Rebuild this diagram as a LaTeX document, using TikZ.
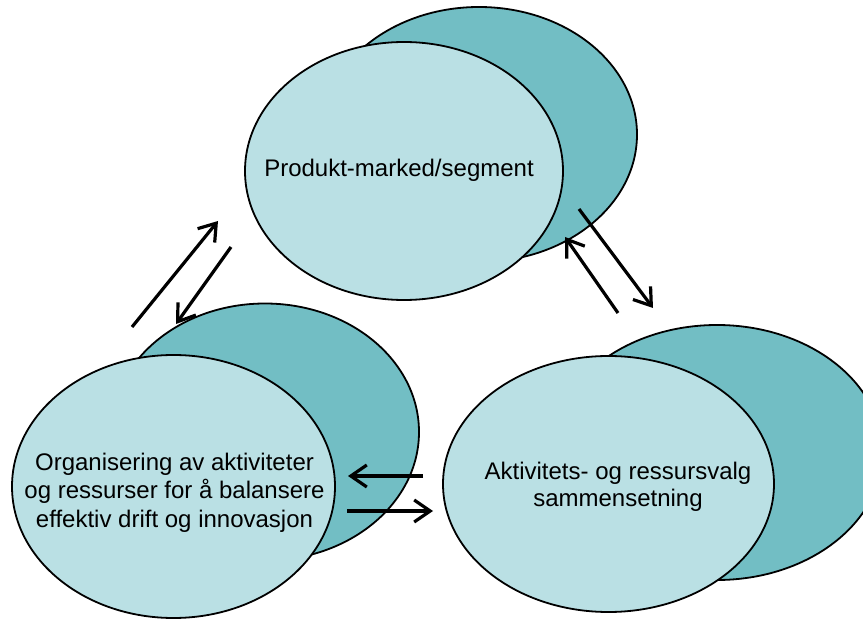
\documentclass[tikz,border=0pt]{standalone}
\usepackage{fontspec}
\setmainfont{Liberation Sans}
\usetikzlibrary{shapes.geometric,arrows.meta}
\definecolor{lightteal}{HTML}{BAE0E4}
\definecolor{darkteal}{HTML}{72BEC4}
\tikzset{
  backoval/.style={ellipse, draw=black, line width=1.8pt, fill=darkteal, inner sep=0pt},
  frontoval/.style={ellipse, draw=black, line width=1.8pt, fill=lightteal, inner sep=0pt},
  label24/.style={font=\fontsize{24}{28}\selectfont, align=center, inner sep=0pt, anchor=base},
  flow/.style={line width=3.2pt, -{Straight Barb[length=16pt,width=22pt]}}
}
\begin{document}
\begin{tikzpicture}[x=1pt,y=-1pt]
\fill[white] (0,0) rectangle (863,620);
\useasboundingbox (0,0) rectangle (863,620);
% top pair
\node[backoval, minimum width=316pt, minimum height=255pt] (topback) at (479,134.5) {};
\node[frontoval, minimum width=318pt, minimum height=258pt] (topfront) at (404,171) {};
% bottom-left pair
\node[backoval, minimum width=308pt, minimum height=257pt] (leftback) at (265,432) {};
\node[frontoval, minimum width=323pt, minimum height=263pt] (leftfront) at (173.5,486.5) {};
% bottom-right pair
\node[backoval, minimum width=331pt, minimum height=255pt] (rightback) at (717,452.5) {};
\node[frontoval, minimum width=331pt, minimum height=256pt] (rightfront) at (608.5,484) {};
% texts (base anchor = baseline of the last line)
\node[label24] (toptext) at (399,177) {Produkt-marked/segment};
\node[label24, font=\fontsize{24}{28.5}\selectfont] (lefttext) at (174.5,527) {Organisering av aktiviteter\\og ressurser for å balansere\\effektiv drift og innovasjon};
\node[label24, font=\fontsize{24}{27}\selectfont] (righttext) at (618,507) {Aktivitets- og ressursvalg\\sammensetning};
% arrow end points
\coordinate (a1) at (132,327); \coordinate (a2) at (218,221);
\coordinate (b1) at (231,247); \coordinate (b2) at (176,324);
\coordinate (c1) at (579,209); \coordinate (c2) at (653,308);
\coordinate (d1) at (618,313); \coordinate (d2) at (565,237);
\coordinate (e1) at (423,476); \coordinate (e2) at (348,476);
\coordinate (f1) at (347,511); \coordinate (f2) at (433,511);
\draw[flow] (a1) -- (a2);
\draw[flow] (b1) -- (b2);
\draw[flow] (c1) -- (c2);
\draw[flow] (d1) -- (d2);
\draw[flow] (e1) -- (e2);
\draw[flow] (f1) -- (f2);
\end{tikzpicture}
\end{document}
